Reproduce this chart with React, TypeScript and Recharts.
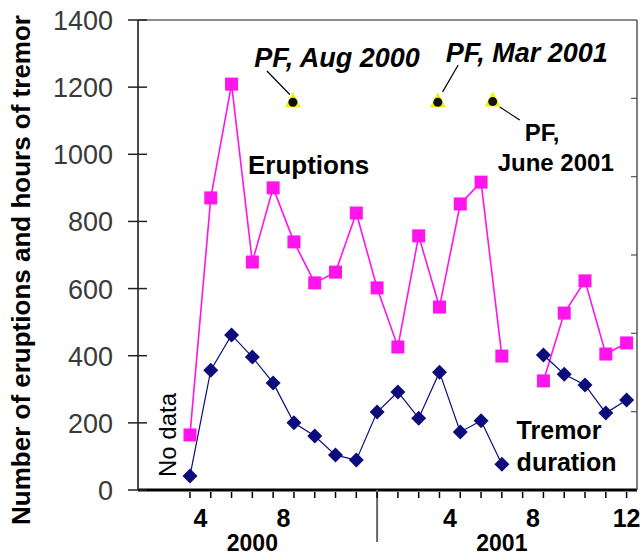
import React from 'react';
import {
  ComposedChart,
  Line,
  Scatter,
  XAxis,
  YAxis,
  ReferenceLine,
  ReferenceDot,
  Label,
} from 'recharts';

// months counted from Jan 2000 = 1 (Apr 2000 = 4 ... Jan 2002 = 25)
const months = [4, 5, 6, 7, 8, 9, 10, 11, 12, 13, 14, 15, 16, 17, 18, 19, 20, 21, 22, 23, 24, 25];
const eruptions = [164, 870, 1209, 679, 900, 739, 617, 649, 825, 602, 426, 757, 545, 852, 917, 399, null, 325, 527, 623, 405, 438];
const tremor = [42, 357, 462, 396, 319, 200, 161, 104, 89, 232, 292, 214, 351, 173, 206, 77, null, 402, 345, 313, 229, 268];

// PF events (plume / explosion markers)
const pfMonths = [8.95, 15.92, 18.56];
const pfLevel = [1158, 1158, 1160];

// axis ticks
const yTicks = [0, 200, 400, 600, 800, 1000, 1200, 1400];
const rightTicks = [1, 2, 3, 4, 5];
const monthTicks = months;
const monthLabelTicks = [4.5, 8.5, 16.5, 20.5, 25];
const monthLabels = ['4', '8', '4', '8', '12'];
const yearTicks = [7, 19];
const yearLabels = ['2000', '2001'];
const yearDivider = 13;

const allXTicks = Array.from(
  new Set([...monthTicks, ...monthLabelTicks, ...yearTicks, yearDivider]),
).sort((a, b) => a - b);

const FONT = "'Liberation Sans', Arial, Helvetica, sans-serif";
const PINK = '#ff14ec';
const NAVY = '#0c0c7c';

const data = months.map((m, i) => ({ m, eruptions: eruptions[i], tremor: tremor[i] }));
const pfData = pfMonths.map((m, i) => ({ m, v: pfLevel[i] }));

function XTick({ x, y, payload }: any) {
  const v = payload.value;
  const parts: React.ReactNode[] = [];
  if (v === yearDivider)
    parts.push(<line key="d" x1={x} x2={x} y1={y} y2={y + 52} stroke="#666" strokeWidth={2} />);
  if (monthTicks.includes(v))
    parts.push(<line key="t" x1={x} x2={x} y1={y + 2} y2={y + 8} stroke="#000" strokeWidth={1.5} />);
  const li = monthLabelTicks.indexOf(v);
  if (li >= 0)
    parts.push(
      <text key="l" x={x} y={y + 37} textAnchor="middle" fontSize={25} fontWeight="bold" fontFamily={FONT} fill="#000">
        {monthLabels[li]}
      </text>,
    );
  const yi = yearTicks.indexOf(v);
  if (yi >= 0)
    parts.push(
      <text key="y" x={x} y={y + 61} textAnchor="middle" fontSize={23} fontWeight="bold" fontFamily={FONT} fill="#000">
        {yearLabels[yi]}
      </text>,
    );
  return <g>{parts}</g>;
}

function YTick({ x, y, payload }: any) {
  return (
    <g>
      <line x1={x - 10} x2={x + 9} y1={y} y2={y} stroke="#222" strokeWidth={1.5} />
      <text x={x - 25} y={y + 10} textAnchor="end" fontSize={27} fontFamily={FONT} fill="#3a3a3a">
        {payload.value}
      </text>
    </g>
  );
}

function RightTick({ x, y }: any) {
  return <line x1={x} x2={x - 6} y1={y} y2={y} stroke="#555" strokeWidth={1.2} />;
}

function SquareDot(props: any) {
  const { cx, cy, index, value } = props;
  if (cx == null || cy == null || value == null) return <g key={`s${index}`} />;
  return <rect key={`s${index}`} x={cx - 6.5} y={cy - 6.5} width={13} height={13} fill={PINK} />;
}

function DiamondDot(props: any) {
  const { cx, cy, index, value } = props;
  if (cx == null || cy == null || value == null) return <g key={`d${index}`} />;
  return (
    <path
      key={`d${index}`}
      d={`M${cx},${cy - 7.5} L${cx + 7.5},${cy} L${cx},${cy + 7.5} L${cx - 7.5},${cy} Z`}
      fill={NAVY}
    />
  );
}

function PfMarker(props: any) {
  const { cx, cy } = props;
  return (
    <g>
      <path d={`M${cx},${cy - 9} L${cx + 8},${cy + 6} L${cx - 8},${cy + 6} Z`} fill="#f4f000" />
      <circle cx={cx} cy={cy + 1} r={4.5} fill="#111" />
    </g>
  );
}

function note(text: string, opts: { italic?: boolean; anchor?: string; size?: number; weight?: string; rotate?: boolean }) {
  return (p: any) => (
    <text
      x={p.cx}
      y={p.cy}
      textAnchor={opts.anchor ?? 'start'}
      dominantBaseline="central"
      fontSize={opts.size ?? 25}
      fontWeight={opts.weight ?? 'bold'}
      fontStyle={opts.italic ? 'italic' : 'normal'}
      fontFamily={FONT}
      fill="#000"
      transform={opts.rotate ? `rotate(-90 ${p.cx} ${p.cy})` : undefined}
    >
      {text}
    </text>
  );
}

function YTitle({ viewBox }: any) {
  const cx = viewBox.x + 30;
  const cy = viewBox.y + viewBox.height / 2 + 15;
  return (
    <text
      x={cx}
      y={cy}
      transform={`rotate(-90 ${cx} ${cy})`}
      textAnchor="middle"
      fontSize={26}
      fontWeight="bold"
      fontFamily={FONT}
      fill="#000"
    >
      Number of eruptions and hours of tremor
    </text>
  );
}

export default function App() {
  return (
    <div style={{ position: 'absolute', left: 0, top: 0, background: '#fff' }}>
      <ComposedChart width={642} height={558} data={data} margin={{ top: 20, right: 0, bottom: 0, left: 0 }}>
        <XAxis
          dataKey="m"
          type="number"
          domain={[1.5, 25.5]}
          ticks={allXTicks}
          interval={0}
          tick={<XTick />}
          tickLine={false}
          tickSize={0}
          tickMargin={0}
          axisLine={{ stroke: '#000', strokeWidth: 3 }}
          height={68}
          allowDataOverflow
        />
        <YAxis
          type="number"
          domain={[0, 1400]}
          ticks={yTicks}
          interval={0}
          tick={<YTick />}
          tickLine={false}
          tickSize={0}
          tickMargin={0}
          axisLine={{ stroke: '#111', strokeWidth: 1.5 }}
          width={138}
          allowDataOverflow
        >
          <Label content={<YTitle />} />
        </YAxis>
        <YAxis
          yAxisId="right"
          orientation="right"
          type="number"
          domain={[0, 6]}
          ticks={rightTicks}
          interval={0}
          tick={<RightTick />}
          tickLine={false}
          tickSize={0}
          tickMargin={0}
          axisLine={{ stroke: '#555', strokeWidth: 1.5 }}
          width={5}
          allowDataOverflow
        />
        <ReferenceLine y={1400} stroke="#666" strokeWidth={1.5} />

        <Line
          dataKey="eruptions"
          stroke={PINK}
          strokeWidth={1.6}
          dot={SquareDot}
          activeDot={false}
          isAnimationActive={false}
          connectNulls={false}
        />
        <Line
          dataKey="tremor"
          stroke={NAVY}
          strokeWidth={1.2}
          dot={DiamondDot}
          activeDot={false}
          isAnimationActive={false}
          connectNulls={false}
        />
        <Scatter data={pfData} dataKey="v" shape={PfMarker} isAnimationActive={false} />

        <ReferenceLine segment={[{ x: 7.7, y: 1248 }, { x: 8.8, y: 1178 }]} stroke="#000" strokeWidth={1.2} />
        <ReferenceLine segment={[{ x: 16.9, y: 1266 }, { x: 16.15, y: 1186 }]} stroke="#000" strokeWidth={1.2} />
        <ReferenceLine segment={[{ x: 18.9, y: 1141 }, { x: 19.86, y: 1102 }]} stroke="#000" strokeWidth={1.2} />

        <ReferenceDot x={11.07} y={1287} r={0} shape={note('PF, Aug 2000', { italic: true, anchor: 'middle', size: 27 })} />
        <ReferenceDot x={20.2} y={1302} r={0} shape={note('PF, Mar 2001', { italic: true, anchor: 'middle', size: 27 })} />
        <ReferenceDot x={20.1} y={1066} r={0} shape={note('PF,', { size: 24 })} />
        <ReferenceDot x={18.8} y={977} r={0} shape={note('June 2001', { size: 24 })} />
        <ReferenceDot x={6.79} y={968} r={0} shape={note('Eruptions', { size: 26 })} />
        <ReferenceDot x={19.71} y={179} r={0} shape={note('Tremor', { size: 25 })} />
        <ReferenceDot x={19.71} y={83} r={0} shape={note('duration', { size: 25 })} />
        <ReferenceDot x={2.94} y={164} r={0} shape={note('No data', { size: 24, weight: 'normal', anchor: 'middle', rotate: true })} />
      </ComposedChart>
    </div>
  );
}
